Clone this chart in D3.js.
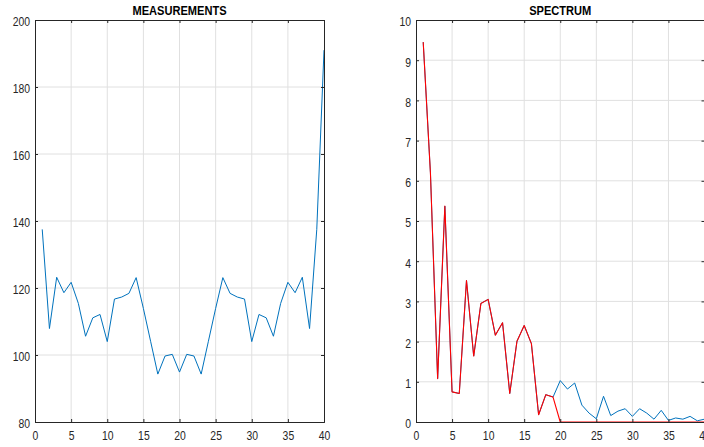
<!DOCTYPE html>
<html>
<head>
<meta charset="utf-8">
<script src="https://cdn.jsdelivr.net/npm/d3@7"></script>
<style>
  body { margin: 0; background: #fff; }
  svg { display: block; }
  text { font-family: "Liberation Sans Narrow", "Arial Narrow", "Liberation Sans", Arial, sans-serif; fill: #262626; }
</style>
</head>
<body>
<svg></svg>
<script>
const width = 704
const height = 447

// left panel: raw measurements, samples 1..40
const measurements = [
  137.5, 107.9, 123.2, 118.6, 121.7, 115.4, 105.6, 111.1, 112.1, 104.0,
  116.7, 117.3, 118.4, 123.1, 113.9, 104.1, 94.3, 99.7, 100.2, 94.9,
  100.2, 99.7, 94.3, 104.1, 113.9, 123.1, 118.4, 117.3, 116.7, 104.0,
  112.1, 111.1, 105.6, 115.4, 121.7, 118.6, 123.2, 107.9, 137.5, 191.0,
]

// right panel: full spectrum (blue) and truncated spectrum (red)
const spectrum = [
  9.45, 6.2, 1.08, 5.37, 0.75, 0.71, 3.52, 1.64, 2.95, 3.05,
  2.16, 2.47, 0.71, 2.01, 2.4, 1.95, 0.18, 0.68, 0.62, 1.03,
  0.82, 0.97, 0.42, 0.22, 0.08, 0.64, 0.16, 0.27, 0.33, 0.14,
  0.33, 0.22, 0.07, 0.29, 0.04, 0.1, 0.07, 0.14, 0.03, 0.07,
]
const truncated = [
  9.45, 6.2, 1.08, 5.37, 0.75, 0.71, 3.52, 1.64, 2.95, 3.05,
  2.16, 2.47, 0.71, 2.01, 2.4, 1.95, 0.18, 0.68, 0.62, 0,
  0, 0, 0, 0, 0, 0, 0, 0, 0, 0,
  0, 0, 0, 0, 0, 0, 0, 0, 0, 0,
]

const xTicks = [0, 5, 10, 15, 20, 25, 30, 35, 40]
const measTicks = [80, 100, 120, 140, 160, 180, 200]
const specTicks = [0, 1, 2, 3, 4, 5, 6, 7, 8, 9, 10]

const svg = d3.select('svg').attr('width', width).attr('height', height)

// squeeze text horizontally to mimic the narrow Helvetica of the original
function narrow(sel, k) {
  sel.each(function () {
    const len = this.getComputedTextLength()
    if (len > 0) {
      d3.select(this)
        .attr('textLength', len * k)
        .attr('lengthAdjust', 'spacingAndGlyphs')
    }
  })
}

function panel({ left, right, top, bottom, yDomain, yTicks, title, series }) {
  const x = d3.scaleLinear().domain([0, 40]).range([left, right])
  const y = d3.scaleLinear().domain(yDomain).range([bottom, top])
  const g = svg.append('g')

  // grid
  g.append('g')
    .selectAll('line')
    .data(xTicks.slice(1, -1))
    .enter()
    .append('line')
    .attr('x1', (d) => x(d))
    .attr('x2', (d) => x(d))
    .attr('y1', top)
    .attr('y2', bottom)
    .style('stroke', '#e0e0e0')
  g.append('g')
    .selectAll('line')
    .data(yTicks.slice(1, -1))
    .enter()
    .append('line')
    .attr('x1', left)
    .attr('x2', right)
    .attr('y1', (d) => y(d))
    .attr('y2', (d) => y(d))
    .style('stroke', '#e0e0e0')

  // lines
  const line = d3
    .line()
    .x((d, i) => x(i + 1))
    .y((d) => y(d))
  series.forEach(({ values, color, w }) => {
    g.append('path')
      .datum(values)
      .attr('d', line)
      .style('fill', 'none')
      .style('stroke', color)
      .style('stroke-width', w)
      .style('stroke-linejoin', 'round')
  })

  // axes (ticks inside, box on)
  g.append('g')
    .attr('transform', `translate(0,${bottom})`)
    .call(d3.axisBottom(x).tickValues(xTicks).tickSize(-3).tickPadding(9))
  const leftAxis = g
    .append('g')
    .attr('transform', `translate(${left},0)`)
    .call(d3.axisLeft(y).tickValues(yTicks).tickSize(-3).tickPadding(5))
  g.append('g')
    .attr('transform', `translate(0,${top})`)
    .call(d3.axisTop(x).tickValues(xTicks).tickSize(-3).tickFormat(''))
  g.append('g')
    .attr('transform', `translate(${right},0)`)
    .call(d3.axisRight(y).tickValues(yTicks).tickSize(-3).tickFormat(''))

  g.selectAll('.domain').style('stroke', '#262626')
  g.selectAll('.tick line').style('stroke', '#262626')
  g.selectAll('.tick text')
    .style('font-size', '13px')
    .style('fill', '#262626')
  leftAxis.selectAll('.tick text').attr('dy', '0.45em')
  narrow(g.selectAll('.tick text'), 0.8)

  const t = g
    .append('text')
    .attr('x', (left + right) / 2)
    .attr('y', top - 5)
    .attr('text-anchor', 'middle')
    .style('font-size', '13.5px')
    .style('font-weight', 'bold')
    .style('fill', '#000')
    .text(title)
  narrow(t, 0.82)
}

panel({
  left: 35,
  right: 324,
  top: 20,
  bottom: 422,
  yDomain: [80, 200],
  yTicks: measTicks,
  title: 'MEASUREMENTS',
  series: [{ values: measurements, color: '#0072bd', w: 1 }],
})

panel({
  left: 416,
  right: 704.5,
  top: 20,
  bottom: 422,
  yDomain: [0, 10],
  yTicks: specTicks,
  title: 'SPECTRUM',
  series: [
    { values: spectrum, color: '#0072bd', w: 1 },
    { values: truncated, color: '#ff0000', w: 1.1 },
  ],
})
</script>
</body>
</html>
